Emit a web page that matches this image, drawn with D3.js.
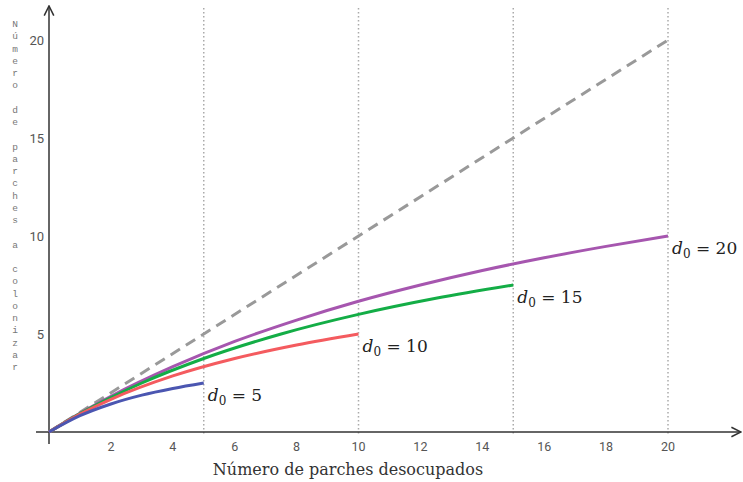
<!DOCTYPE html>
<html>
<head>
<meta charset="utf-8">
<script src="https://cdn.jsdelivr.net/npm/d3@7"></script>
<style>
  body { margin: 0; background: #fff; }
  svg { display: block; }
</style>
</head>
<body>
<div id="chart"></div>
<script>
// values (x = parches desocupados, y = parches a colonizar)
const curveX5 = [0, 1, 2, 3, 4, 5];
const curveY5 = [0, 0.83, 1.43, 1.88, 2.22, 2.5];
const curveX10 = [0, 1, 2, 4, 6, 8, 10];
const curveY10 = [0, 0.91, 1.67, 2.86, 3.75, 4.44, 5];
const curveX15 = [0, 1, 2, 3, 5, 7.5, 10, 12.5, 15];
const curveY15 = [0, 0.94, 1.76, 2.5, 3.75, 5, 6, 6.82, 7.5];
const curveX20 = [0, 1, 2, 4, 6, 8, 10, 12, 14, 16, 18, 20];
const curveY20 = [0, 0.95, 1.82, 3.33, 4.62, 5.71, 6.67, 7.5, 8.24, 8.89, 9.47, 10];
const d0Values = [5, 10, 15, 20];
const curveColors = ["#4b56b1", "#f45b5f", "#13ad46", "#a656af"];
const diagonalX = [0, 20];
const diagonalY = [0, 20];
const xTicks = [2, 4, 6, 8, 10, 12, 14, 16, 18, 20];
const yTicks = [5, 10, 15, 20];
const guideX = [5, 10, 15, 20];
const xTitle = "Número de parches desocupados";
const yTitle = "Número de parches a colonizar";

const width = 743, height = 482;
const x = d3.scaleLinear().domain([0, 20]).range([49, 668]);
const y = d3.scaleLinear().domain([0, 20]).range([432, 40]);

const svg = d3.select("#chart").append("svg")
  .attr("width", width).attr("height", height);

const defs = svg.append("defs");
defs.append("marker")
  .attr("id", "arrow")
  .attr("viewBox", "0 0 10 10")
  .attr("refX", 9).attr("refY", 5)
  .attr("markerWidth", 8).attr("markerHeight", 8)
  .attr("orient", "auto")
  .append("path")
  .attr("d", "M1,1 L9,5 L1,9")
  .attr("fill", "none")
  .attr("stroke", "#333")
  .attr("stroke-width", 1.3);

// dotted guides
svg.append("g").selectAll("line")
  .data(guideX)
  .join("line")
  .attr("x1", d => x(d)).attr("x2", d => x(d))
  .attr("y1", 8).attr("y2", y(0) + 2)
  .attr("stroke", "#aaa")
  .attr("stroke-width", 1.5)
  .attr("stroke-dasharray", "1.5,2.5");

// axes
svg.append("line")
  .attr("x1", 36).attr("x2", 741)
  .attr("y1", y(0)).attr("y2", y(0))
  .attr("stroke", "#333").attr("stroke-width", 1.5)
  .attr("marker-end", "url(#arrow)");
svg.append("line")
  .attr("x1", x(0)).attr("x2", x(0))
  .attr("y1", 444).attr("y2", 6)
  .attr("stroke", "#333").attr("stroke-width", 1.5)
  .attr("marker-end", "url(#arrow)");

svg.append("g").selectAll("text")
  .data(xTicks)
  .join("text")
  .attr("x", d => x(d)).attr("y", 451)
  .attr("text-anchor", "middle")
  .attr("font-family", "Roboto, sans-serif")
  .attr("font-size", 12.5)
  .attr("fill", "#555")
  .text(d => d);

svg.append("g").selectAll("text")
  .data(yTicks)
  .join("text")
  .attr("x", 44).attr("y", d => y(d) + 5)
  .attr("text-anchor", "end")
  .attr("font-family", "Roboto, sans-serif")
  .attr("font-size", 13)
  .attr("fill", "#555")
  .text(d => d);

// axis titles
svg.append("text")
  .attr("x", 348).attr("y", 475)
  .attr("text-anchor", "middle")
  .attr("font-family", "'DejaVu Serif', serif")
  .attr("font-size", 16)
  .attr("fill", "#333")
  .text(xTitle);

svg.append("g").selectAll("text")
  .data(Array.from(yTitle))
  .join("text")
  .attr("x", 15).attr("y", (d, i) => 27 + i * 12.25)
  .attr("text-anchor", "middle")
  .attr("font-family", "'Liberation Mono', monospace")
  .attr("font-size", 9.5)
  .attr("fill", "#777")
  .text(d => d);

// diagonal
const line = d3.line().x(d => x(d[0])).y(d => y(d[1]));
svg.append("path")
  .attr("d", line(d3.zip(diagonalX, diagonalY)))
  .attr("fill", "none")
  .attr("stroke", "#999")
  .attr("stroke-width", 3)
  .attr("stroke-dasharray", "11,7");

// curves
const curves = [
  d3.zip(curveX5, curveY5),
  d3.zip(curveX10, curveY10),
  d3.zip(curveX15, curveY15),
  d3.zip(curveX20, curveY20)
];
const smooth = d3.line().x(d => x(d[0])).y(d => y(d[1])).curve(d3.curveMonotoneX);
svg.append("g").selectAll("path")
  .data(curves.slice().reverse())
  .join("path")
  .attr("d", smooth)
  .attr("fill", "none")
  .attr("stroke", (d, i) => curveColors[curves.length - 1 - i])
  .attr("stroke-width", 3);

// labels
const labels = svg.append("g").selectAll("text")
  .data(curves)
  .join("text")
  .attr("x", d => x(d[d.length - 1][0]) + 4)
  .attr("y", d => y(d[d.length - 1][1]) + 18)
  .attr("font-family", "'DejaVu Serif', serif")
  .attr("font-size", 17)
  .attr("fill", "#222");
labels.append("tspan").attr("font-style", "italic").text("d");
labels.append("tspan").attr("font-size", 12).attr("dy", 4).text("0");
labels.append("tspan").attr("dy", -4).text((d, i) => " = " + d0Values[i]);
</script>
</body>
</html>
